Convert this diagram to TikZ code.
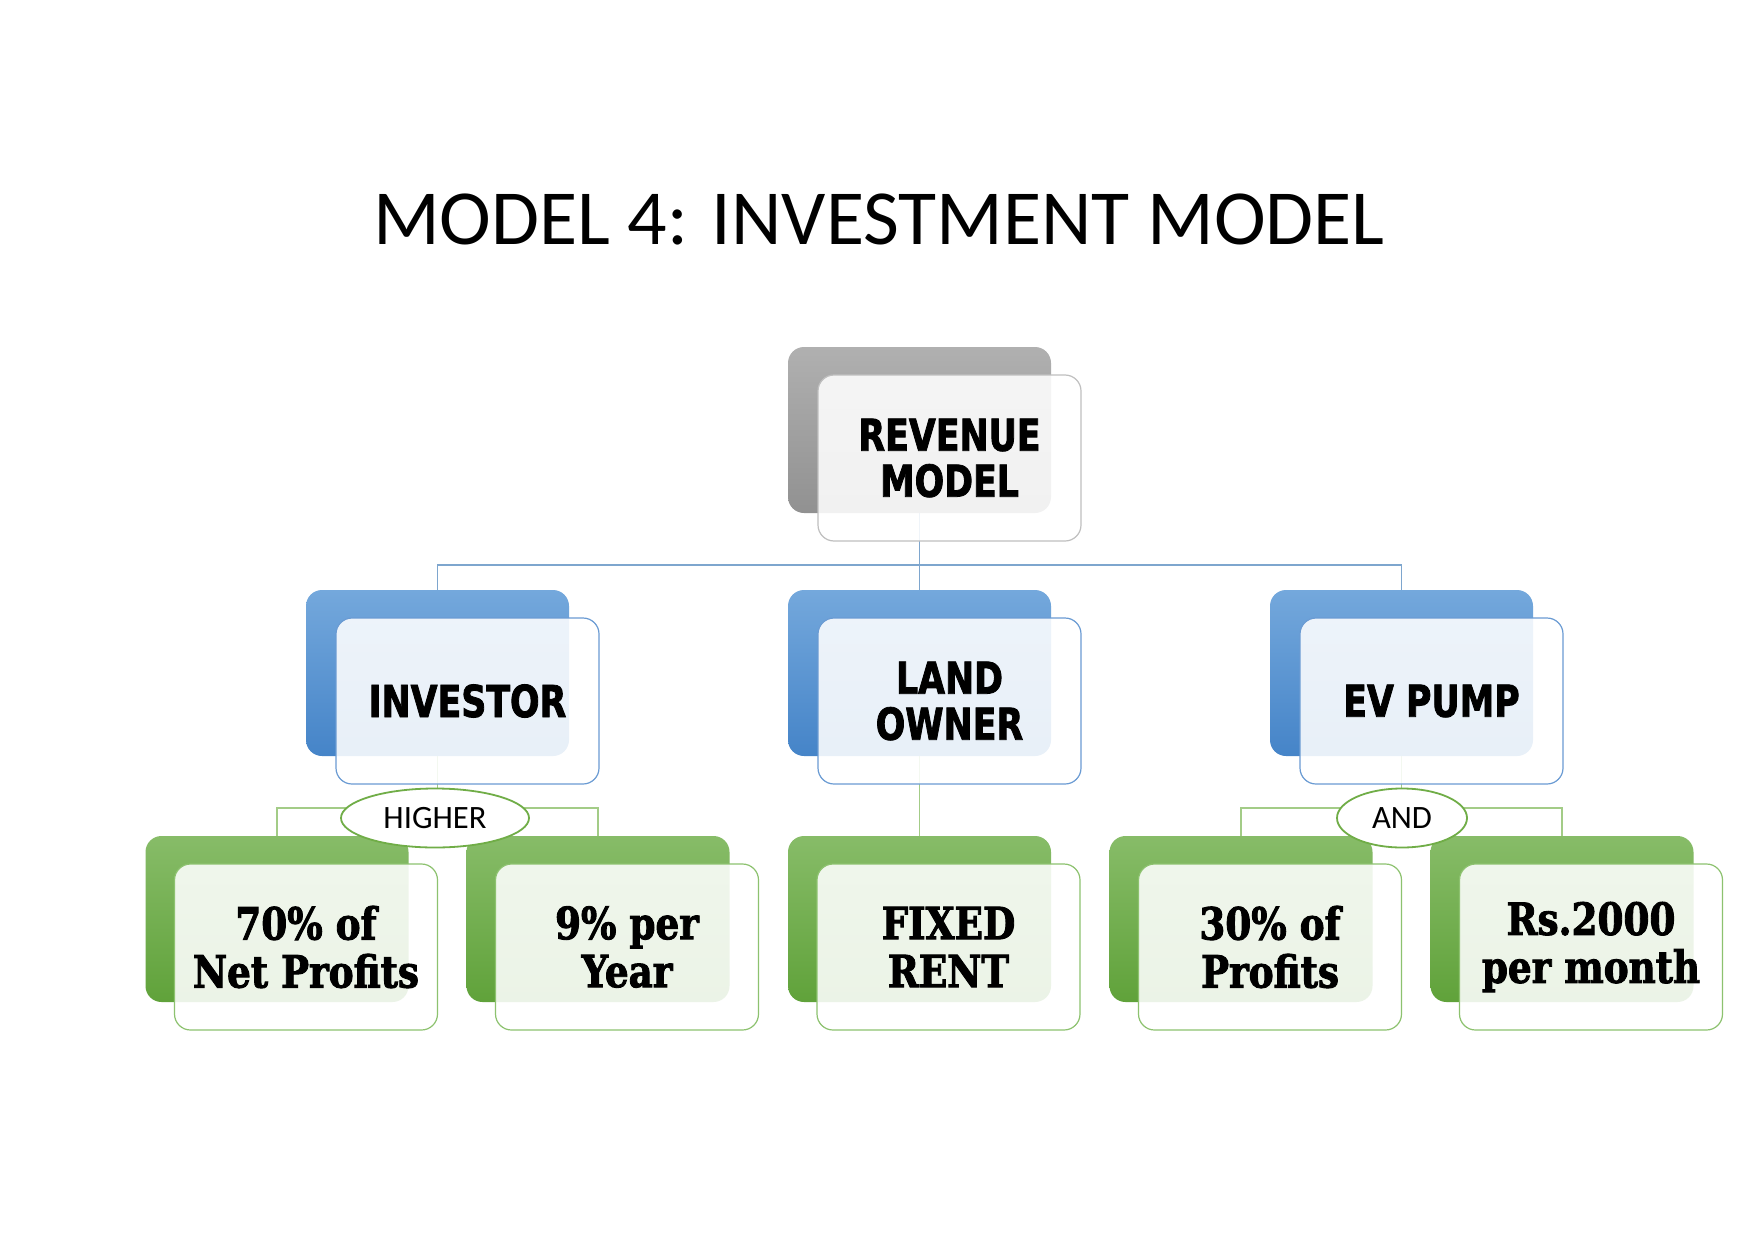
\documentclass[tikz,border=0pt]{standalone}
\usepackage{fontspec}
\usetikzlibrary{shapes.geometric}
\setmainfont{Carlito}
\newfontfamily\titlefont{Carlito}
\newfontfamily\boxsans{DejaVu Sans}[FakeStretch=0.79,FakeBold=1.8]
\newfontfamily\boxserif{DejaVu Serif}[FakeStretch=0.84,FakeBold=2]
\definecolor{grayT}{HTML}{B0B0B0}
\definecolor{grayB}{HTML}{919191}
\definecolor{grayE}{HTML}{BFBFBF}
\definecolor{blueT}{HTML}{74A8DC}
\definecolor{blueB}{HTML}{4584C8}
\definecolor{blueE}{HTML}{6A9BD3}
\definecolor{greenT}{HTML}{87BC68}
\definecolor{greenB}{HTML}{60A23A}
\definecolor{greenE}{HTML}{8DC26F}
\definecolor{busC}{HTML}{7EA6CE}
\definecolor{brC}{HTML}{A3CC87}
\definecolor{ellE}{HTML}{70AD47}
\tikzset{
  backbox/.style={rounded corners=8pt, minimum width=131.5pt, minimum height=83pt, inner sep=0pt, outer sep=0pt},
  grayback/.style={backbox, top color=grayT, bottom color=grayB},
  blueback/.style={backbox, top color=blueT, bottom color=blueB},
  greenback/.style={backbox, top color=greenT, bottom color=greenB},
  frontbox/.style={rounded corners=8pt, minimum width=131.5pt, minimum height=83pt, inner sep=0pt, outer sep=0pt, fill=white, fill opacity=0.88, text opacity=1, line width=0.6pt, align=center},
  grayfront/.style={frontbox, draw=grayE, font=\boxsans\bfseries\fontsize{22pt}{23pt}\selectfont},
  bluefront/.style={frontbox, draw=blueE, font=\boxsans\bfseries\fontsize{22pt}{23pt}\selectfont},
  greenfront/.style={frontbox, draw=greenE, font=\boxserif\bfseries\fontsize{22.2pt}{24pt}\selectfont},
  busline/.style={draw=busC, line width=0.6pt},
  brline/.style={draw=brC, line width=0.6pt},
  joiner/.style={ellipse, draw=ellE, line width=0.9pt, fill=white, minimum height=29.5pt, inner sep=0pt, font=\fontsize{16.3pt}{17pt}\selectfont},
}
\begin{document}
\begin{tikzpicture}[x=0.5pt, y=-0.5pt]
\useasboundingbox (0,0) rectangle (1755,1241);
\fill[white] (0,0) rectangle (1755,1241);
% title
\node[font=\titlefont\fontsize{39pt}{41pt}\selectfont, inner sep=0pt, anchor=base] (title) at (879,244) {MODEL 4: INVESTMENT MODEL};
% named coordinates
\coordinate (bus) at (919.5,565);
\coordinate (brI) at (437.5,808);
\coordinate (brE) at (1401.5,808);
\coordinate (c1) at (919.5,430);
\coordinate (c2i) at (437.5,673);
\coordinate (c2l) at (919.5,673);
\coordinate (c2e) at (1401.5,673);
\coordinate (c3a) at (277,919);
\coordinate (c3b) at (598,919);
\coordinate (c3c) at (919.5,919);
\coordinate (c3d) at (1241,919);
\coordinate (c3e) at (1562,919);
% connectors (drawn first, behind boxes)
\draw[busline] (c1) -- (c2l);
\draw[busline] (c2i) |- (bus) -| (c2e);
\draw[brline] (c2i) -- (brI);
\draw[brline] (c3a) |- (brI) -| (c3b);
\draw[brline] (c2l) -- (c3c);
\draw[brline] (c2e) -- (brE);
\draw[brline] (c3d) |- (brE) -| (c3e);
% back boxes
\node[grayback]  (revB) at (c1) {};
\node[blueback]  (invB) at (c2i) {};
\node[blueback]  (lowB) at (c2l) {};
\node[blueback]  (evB)  at (c2e) {};
\node[greenback] (p70B) at (c3a) {};
\node[greenback] (p9B)  at (c3b) {};
\node[greenback] (fixB) at (c3c) {};
\node[greenback] (p30B) at (c3d) {};
\node[greenback] (rsB)  at (c3e) {};
% front boxes with text
\node[grayfront]  (rev) at ([shift={(30,28)}]c1) {REVENUE\\MODEL};
\node[bluefront]  (inv) at ([shift={(30,28)}]c2i) {INVESTOR};
\node[bluefront]  (low) at ([shift={(30,28)}]c2l) {LAND\\OWNER};
\node[bluefront]  (ev)  at ([shift={(30,28)}]c2e) {EV PUMP};
\node[greenfront] (p70) at ([shift={(29,28)}]c3a) {70\% of\\Net Profits};
\node[greenfront] (p9)  at ([shift={(29,28)}]c3b) {9\% per\\Year};
\node[greenfront] (fix) at ([shift={(29,28)}]c3c) {FIXED\\RENT};
\node[greenfront] (p30) at ([shift={(29,28)}]c3d) {30\% of\\Profits};
\node[greenfront] (rs)  at ([shift={(29,28)}]c3e) {Rs.2000\\per month};
% joiner ellipses
\node[joiner, minimum width=94pt] (higher) at (435,818) {HIGHER};
\node[joiner, minimum width=65pt] (and) at (1402,818) {AND};
\end{tikzpicture}
\end{document}
